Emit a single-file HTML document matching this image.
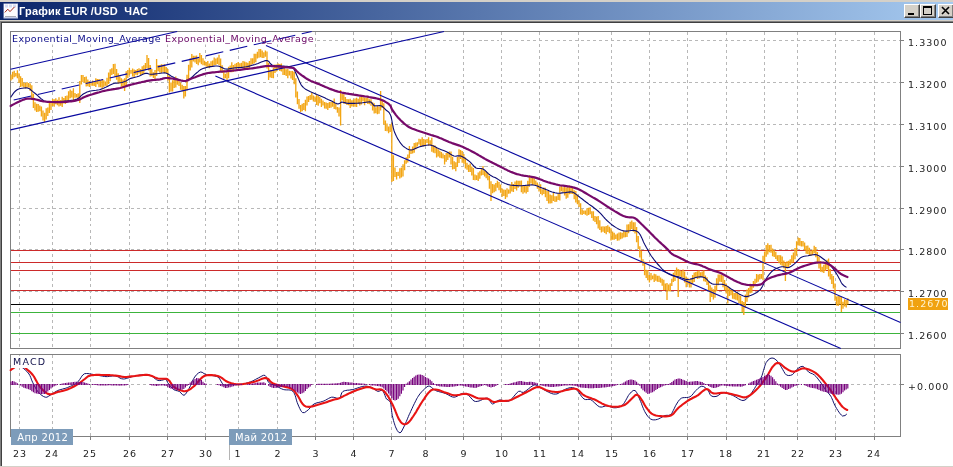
<!DOCTYPE html>
<html><head><meta charset="utf-8"><title>График EUR /USD ЧАС</title>
<style>
html,body{margin:0;padding:0;background:#fff;}
body{width:953px;height:467px;position:relative;overflow:hidden;font-family:"DejaVu Sans","Liberation Sans",sans-serif;}
#win{position:absolute;left:0;top:0;width:953px;height:467px;background:#fff;overflow:hidden;}
#topstrip{position:absolute;left:0;top:0;width:953px;height:2px;background:#d4d0c8;}
#title{position:absolute;left:0;top:2px;width:953px;height:18px;background:linear-gradient(to right,#0a246a 0%,#a6caf0 100%);}
#title .txt{position:absolute;left:19px;top:2px;font:bold 11px/14px "Liberation Sans",sans-serif;color:#fff;white-space:pre;letter-spacing:0.18px;}
#under1{position:absolute;left:0;top:20px;width:953px;height:1px;background:#d4d0c8;}
#under2{position:absolute;left:0;top:21px;width:953px;height:1px;background:#808080;}
#under3{position:absolute;left:1px;top:22px;width:952px;height:1px;background:#404040;}
#leftb{position:absolute;left:0;top:21px;width:1px;height:446px;background:#808080;}
#leftb2{position:absolute;left:1px;top:22px;width:1px;height:444px;background:#404040;}
#botb{position:absolute;left:0;top:466px;width:953px;height:1px;background:#d4d0c8;}
.btn{position:absolute;top:2px;width:16px;height:14px;background:#d4d0c8;box-sizing:border-box;border:1px solid;border-color:#fff #404040 #404040 #fff;box-shadow:inset -1px -1px 0 #808080;}
.yl{position:absolute;left:908px;font-size:9.5px;line-height:12px;color:#222;letter-spacing:1.05px;white-space:pre;}
.xl{position:absolute;top:448px;width:40px;text-align:center;font-size:9.5px;line-height:12px;color:#222;letter-spacing:1.05px;}
.mon{position:absolute;top:429px;height:16px;padding-top:1px;box-sizing:border-box;background:#7d9cba;color:#fff;font-size:10px;line-height:16px;letter-spacing:0.3px;text-align:center;white-space:pre;text-indent:1.5px;}
.lab{position:absolute;font-size:9.5px;line-height:12px;letter-spacing:0.38px;white-space:pre;}
</style></head><body><div id="win">

<svg width="953" height="467" viewBox="0 0 953 467" style="position:absolute;left:0;top:0">
<path d="M19.5 31.5V348.5M19.5 354.5V436.5M52.5 31.5V348.5M52.5 354.5V436.5M90.5 31.5V348.5M90.5 354.5V436.5M129.5 31.5V348.5M129.5 354.5V436.5M167.5 31.5V348.5M167.5 354.5V436.5M205.5 31.5V348.5M205.5 354.5V436.5M238.5 31.5V348.5M238.5 354.5V436.5M277.5 31.5V348.5M277.5 354.5V436.5M315.5 31.5V348.5M315.5 354.5V436.5M353.5 31.5V348.5M353.5 354.5V436.5M391.5 31.5V348.5M391.5 354.5V436.5M425.5 31.5V348.5M425.5 354.5V436.5M463.5 31.5V348.5M463.5 354.5V436.5M501.5 31.5V348.5M501.5 354.5V436.5M539.5 31.5V348.5M539.5 354.5V436.5M578.5 31.5V348.5M578.5 354.5V436.5M611.5 31.5V348.5M611.5 354.5V436.5M649.5 31.5V348.5M649.5 354.5V436.5M687.5 31.5V348.5M687.5 354.5V436.5M726.5 31.5V348.5M726.5 354.5V436.5M764.5 31.5V348.5M764.5 354.5V436.5M797.5 31.5V348.5M797.5 354.5V436.5M835.5 31.5V348.5M835.5 354.5V436.5M874.5 31.5V348.5M874.5 354.5V436.5M10.5 40.5H900.5M10.5 82.5H900.5M10.5 124.5H900.5M10.5 166.5H900.5M10.5 208.5H900.5M10.5 249.5H900.5M10.5 291.5H900.5M10.5 333.5H900.5M10.5 384.5H900.5" stroke="#b8b8b8" stroke-width="1" stroke-dasharray="3 3" fill="none" shape-rendering="crispEdges"/>
<g fill="none" stroke="#808080" stroke-width="1" shape-rendering="crispEdges"><rect x="10.5" y="31.5" width="890.0" height="317.0"/><rect x="10.5" y="354.5" width="890.0" height="82.0"/>
<path d="M900.5 40.5h3M900.5 82.5h3M900.5 124.5h3M900.5 166.5h3M900.5 208.5h3M900.5 249.5h3M900.5 291.5h3M900.5 333.5h3M900.5 384.5h3M19.5 436.5v3M52.5 436.5v3M90.5 436.5v3M129.5 436.5v3M167.5 436.5v3M205.5 436.5v3M238.5 436.5v3M277.5 436.5v3M315.5 436.5v3M353.5 436.5v3M391.5 436.5v3M425.5 436.5v3M463.5 436.5v3M501.5 436.5v3M539.5 436.5v3M578.5 436.5v3M611.5 436.5v3M649.5 436.5v3M687.5 436.5v3M726.5 436.5v3M764.5 436.5v3M797.5 436.5v3M835.5 436.5v3M874.5 436.5v3"/></g>
<rect x="11" y="32" width="304" height="12.5" fill="#fff"/>
<g shape-rendering="crispEdges" stroke-width="1">
<line x1="11.0" x2="900.0" y1="250.5" y2="250.5" stroke="#cc2a2a"/>
<line x1="11.0" x2="900.0" y1="262.5" y2="262.5" stroke="#cc2a2a"/>
<line x1="11.0" x2="900.0" y1="270.5" y2="270.5" stroke="#cc2a2a"/>
<line x1="11.0" x2="900.0" y1="290.5" y2="290.5" stroke="#cc2a2a"/>
<line x1="11.0" x2="900.0" y1="304.5" y2="304.5" stroke="#000"/>
<line x1="11.0" x2="900.0" y1="312.5" y2="312.5" stroke="#3cb43c"/>
<line x1="11.0" x2="900.0" y1="333.5" y2="333.5" stroke="#3cb43c"/>
</g>
<path d="M11.0 74.6V80.6M12.6 71.7V79.3M14.2 70.8V77.2M15.8 72.9V76.4M17.4 70.3V78.2M19.0 73.2V83.0M20.6 76.2V87.0M22.2 77.9V86.4M23.8 82.4V87.4M25.4 82.9V88.6M27.0 82.1V88.0M28.6 83.0V87.4M30.2 83.5V90.9M31.8 85.2V100.1M33.4 93.8V108.1M35.0 102.3V110.6M36.6 103.8V112.0M38.2 104.1V111.7M39.8 105.5V111.2M41.4 106.5V116.4M43.0 110.4V120.5M44.6 112.7V122.0M46.2 108.2V119.4M47.8 107.6V115.9M49.4 101.9V113.0M51.0 100.9V110.0M52.6 98.9V105.9M54.2 99.3V106.8M55.8 98.3V104.3M57.4 99.7V105.3M59.0 97.3V106.5M60.6 99.9V105.7M62.2 96.7V106.9M63.8 98.0V103.5M65.4 95.9V104.0M67.0 95.4V102.2M68.6 91.3V101.8M70.2 89.6V98.3M71.8 90.8V97.5M73.4 88.3V100.7M75.0 93.0V97.7M76.6 93.9V97.4M78.2 93.3V99.9M79.8 81.0V103.0M81.4 74.9V84.6M83.0 74.9V82.1M84.6 77.0V82.8M86.2 76.4V86.6M87.8 79.6V86.3M89.4 81.1V87.0M91.0 82.5V85.8M92.6 80.5V85.7M94.2 81.4V86.1M95.8 78.3V87.0M97.4 79.0V84.2M99.0 78.9V87.2M100.6 80.6V87.2M102.2 79.1V89.2M103.8 80.2V87.0M105.4 81.4V85.7M107.0 77.8V86.1M108.6 72.4V83.9M110.2 69.2V81.3M111.8 68.2V75.1M113.4 64.0V74.0M115.0 63.8V76.8M116.6 68.9V79.7M118.2 73.3V83.7M119.8 76.3V83.2M121.4 78.3V86.7M123.0 79.4V86.9M124.6 78.3V91.0M126.2 71.2V85.7M127.8 70.1V78.0M129.4 67.7V75.2M131.0 70.0V73.7M132.6 68.6V76.5M134.2 69.6V77.4M135.8 70.1V74.7M137.4 69.1V75.2M139.0 68.2V73.4M140.6 68.9V74.9M142.2 66.3V74.0M143.8 65.2V73.8M145.4 62.9V70.2M147.0 55.0V68.3M148.6 58.0V70.6M150.2 65.0V76.4M151.8 69.1V76.2M153.4 72.3V78.1M155.0 69.9V79.0M156.6 59.0V76.0M158.2 65.0V71.2M159.8 64.9V72.5M161.4 64.3V72.9M163.0 64.6V71.9M164.6 64.2V73.2M166.2 67.0V73.3M167.8 69.1V80.6M169.4 75.9V92.6M171.0 82.4V91.4M172.6 80.2V91.6M174.2 78.1V88.0M175.8 76.5V87.5M177.4 78.4V84.8M179.0 80.4V86.1M180.6 82.6V89.8M182.2 84.8V91.5M183.8 86.1V98.5M185.4 86.0V96.5M187.0 74.8V90.5M188.6 64.7V79.6M190.2 58.3V70.6M191.8 54.0V67.4M193.4 55.7V61.4M195.0 55.7V62.4M196.6 55.5V63.9M198.2 58.6V65.2M199.8 53.0V62.4M201.4 54.9V64.3M203.0 58.3V65.2M204.6 60.8V65.6M206.2 62.1V66.7M207.8 61.0V67.6M209.4 63.5V68.2M211.0 61.2V66.7M212.6 60.5V66.3M214.2 57.5V64.9M215.8 58.6V65.1M217.4 57.5V63.9M219.0 54.7V65.2M220.6 58.6V71.9M222.2 65.2V73.1M223.8 70.3V78.7M225.4 73.7V78.2M227.0 72.3V80.8M228.6 66.8V78.3M230.2 65.6V72.2M231.8 62.2V72.2M233.4 65.0V72.0M235.0 63.8V68.4M236.6 63.1V69.8M238.2 62.1V67.6M239.8 63.3V68.5M241.4 62.7V67.7M243.0 61.1V68.2M244.6 61.4V69.3M246.2 62.3V68.0M247.8 62.7V68.7M249.4 61.1V67.8M251.0 58.3V66.1M252.6 58.3V64.1M254.2 53.7V63.6M255.8 53.7V62.3M257.4 51.7V58.5M259.0 49.0V57.7M260.6 49.0V57.3M262.2 50.5V57.9M263.8 52.3V58.1M265.4 50.6V56.8M267.0 51.6V68.4M268.6 62.7V80.0M270.2 69.8V77.4M271.8 70.0V77.9M273.4 67.6V78.3M275.0 64.4V72.9M276.6 64.6V71.6M278.2 63.6V68.8M279.8 64.0V70.9M281.4 63.4V71.5M283.0 65.9V75.0M284.6 67.6V75.1M286.2 69.3V76.0M287.8 69.1V78.3M289.4 70.8V75.4M291.0 71.1V78.4M292.6 71.1V80.0M294.2 71.9V84.3M295.8 78.2V97.5M297.4 91.6V104.2M299.0 99.0V108.8M300.6 105.1V112.0M302.2 103.7V111.2M303.8 103.0V110.0M305.4 99.7V111.2M307.0 96.4V105.4M308.6 96.0V101.9M310.2 95.0V99.9M311.8 92.5V99.7M313.4 95.4V101.6M315.0 96.5V101.9M316.6 94.9V105.1M318.2 95.6V105.7M319.8 97.0V103.2M321.4 98.8V107.1M323.0 100.4V105.6M324.6 102.1V108.6M326.2 102.4V108.7M327.8 102.9V109.9M329.4 102.0V108.1M331.0 102.1V107.7M332.6 101.1V106.7M334.2 98.5V109.1M335.8 103.4V109.5M337.4 107.0V112.7M339.0 107.6V116.4M340.6 90.0V125.5M342.2 93.9V100.4M343.8 94.2V103.8M345.4 96.9V103.7M347.0 98.9V105.0M348.6 99.3V105.3M350.2 98.7V108.0M351.8 100.2V106.5M353.4 99.6V106.4M355.0 98.4V106.8M356.6 97.8V106.9M358.2 98.8V103.4M359.8 96.8V105.6M361.4 96.8V104.4M363.0 96.5V101.3M364.6 97.7V105.2M366.2 97.7V102.4M367.8 96.8V104.1M369.4 99.2V104.3M371.0 99.3V105.8M372.6 102.2V110.4M374.2 103.2V113.6M375.8 107.2V113.3M377.4 105.6V114.2M379.0 106.5V113.8M380.6 91.0V110.5M382.2 100.4V108.1M383.8 103.2V124.4M385.4 120.6V131.1M387.0 123.6V131.3M388.6 126.4V133.2M390.2 124.7V132.0M391.8 122.7V182.0M393.4 155.3V181.0M395.0 167.4V176.9M396.6 172.1V179.5M398.2 171.8V175.9M399.8 168.3V178.4M401.4 167.6V177.5M403.0 164.3V176.5M404.6 160.3V170.2M406.2 157.3V163.7M407.8 154.4V162.4M409.4 146.1V158.1M411.0 149.0V154.0M412.6 146.4V153.5M414.2 142.9V152.7M415.8 142.6V149.3M417.4 142.3V146.5M419.0 138.7V144.4M420.6 139.3V146.6M422.2 137.3V146.1M423.8 139.1V146.4M425.4 139.5V145.7M427.0 139.1V143.0M428.6 137.2V145.7M430.2 140.3V145.3M431.8 137.7V151.8M433.4 145.1V152.7M435.0 145.6V153.3M436.6 147.5V157.4M438.2 149.2V156.4M439.8 150.8V157.7M441.4 152.0V158.2M443.0 153.6V158.4M444.6 155.0V164.4M446.2 153.0V161.8M447.8 151.9V160.0M449.4 151.5V157.6M451.0 151.6V164.5M452.6 156.8V169.6M454.2 161.2V168.9M455.8 162.3V171.2M457.4 156.9V167.0M459.0 149.3V163.0M460.6 150.1V159.1M462.2 151.0V162.8M463.8 153.9V163.7M465.4 157.6V168.5M467.0 162.8V169.8M468.6 164.7V171.9M470.2 163.4V172.1M471.8 166.5V175.6M473.4 168.0V180.1M475.0 174.4V180.2M476.6 175.3V180.0M478.2 172.5V180.9M479.8 171.3V178.8M481.4 168.4V175.6M483.0 165.9V175.0M484.6 170.7V176.5M486.2 171.2V178.3M487.8 172.8V180.3M489.4 175.9V188.7M491.0 181.2V201.0M492.6 184.0V193.2M494.2 184.5V192.3M495.8 183.1V191.2M497.4 180.7V187.8M499.0 182.1V190.3M500.6 184.5V192.8M502.2 188.6V196.7M503.8 189.4V196.0M505.4 189.7V199.0M507.0 188.2V197.3M508.6 189.4V193.7M510.2 185.0V193.4M511.8 182.1V191.5M513.4 184.1V191.9M515.0 181.5V189.0M516.6 180.6V190.5M518.2 180.7V187.7M519.8 180.7V186.2M521.4 180.6V192.3M523.0 185.1V193.8M524.6 184.9V192.5M526.2 185.8V193.5M527.8 180.7V192.1M529.4 175.2V186.8M531.0 177.6V183.4M532.6 178.0V185.1M534.2 178.3V184.8M535.8 180.6V185.8M537.4 182.5V188.7M539.0 184.6V191.6M540.6 184.2V193.9M542.2 189.2V195.2M543.8 187.5V194.0M545.4 187.7V197.3M547.0 190.8V200.9M548.6 190.9V203.4M550.2 194.5V203.4M551.8 195.2V203.2M553.4 192.9V200.9M555.0 196.2V202.0M556.6 196.3V201.7M558.2 193.6V200.0M559.8 186.8V200.6M561.4 184.9V191.2M563.0 187.3V192.4M564.6 186.1V195.5M566.2 187.5V198.7M567.8 186.5V197.7M569.4 185.5V194.2M571.0 186.5V194.0M572.6 187.6V194.1M574.2 190.2V199.3M575.8 191.1V202.5M577.4 194.6V204.3M579.0 200.3V206.9M580.6 203.3V214.4M582.2 209.3V214.9M583.8 210.6V213.9M585.4 210.5V214.8M587.0 208.2V215.8M588.6 207.8V215.1M590.2 207.3V214.3M591.8 211.3V218.1M593.4 211.3V220.8M595.0 216.1V222.1M596.6 216.5V224.3M598.2 216.0V228.4M599.8 220.2V230.1M601.4 226.4V232.4M603.0 226.2V231.7M604.6 226.6V233.0M606.2 226.1V234.2M607.8 225.3V232.0M609.4 226.8V233.3M611.0 228.2V240.5M612.6 231.6V239.8M614.2 232.8V239.7M615.8 234.6V238.9M617.4 233.4V240.7M619.0 232.5V240.6M620.6 232.3V239.2M622.2 232.8V238.4M623.8 230.7V237.6M625.4 231.9V237.3M627.0 224.5V237.1M628.6 224.3V233.3M630.2 221.7V230.7M631.8 220.4V229.1M633.4 222.3V231.7M635.0 222.2V233.5M636.6 227.0V242.2M638.2 235.9V249.1M639.8 246.3V257.6M641.4 250.8V262.4M643.0 259.2V265.7M644.6 261.5V275.3M646.2 269.7V277.9M647.8 269.9V280.3M649.4 274.9V282.6M651.0 272.9V280.3M652.6 275.5V279.2M654.2 273.7V282.0M655.8 274.3V280.8M657.4 275.7V281.8M659.0 275.8V282.0M660.6 277.6V282.7M662.2 278.7V285.8M663.8 279.8V290.2M665.4 283.6V290.1M667.0 283.1V300.0M668.6 284.6V291.3M670.2 283.2V291.5M671.8 278.8V286.1M673.4 272.8V282.1M675.0 270.3V281.1M676.6 267.6V275.8M678.2 269.0V297.0M679.8 269.8V276.0M681.4 271.0V277.1M683.0 269.6V277.8M684.6 271.4V282.4M686.2 276.6V287.2M687.8 277.8V284.4M689.4 280.2V287.5M691.0 278.3V287.4M692.6 275.0V284.1M694.2 272.5V282.0M695.8 272.0V277.8M697.4 271.2V279.0M699.0 270.6V278.4M700.6 272.2V277.0M702.2 271.6V277.1M703.8 270.6V281.2M705.4 275.5V281.8M707.0 277.2V285.1M708.6 281.7V291.3M710.2 285.3V302.0M711.8 287.5V297.1M713.4 289.3V299.6M715.0 285.8V297.8M716.6 278.3V291.3M718.2 274.6V285.3M719.8 274.6V281.8M721.4 274.7V282.0M723.0 275.5V287.2M724.6 280.0V290.2M726.2 283.5V293.5M727.8 285.9V303.5M729.4 288.2V296.1M731.0 289.4V295.2M732.6 289.9V298.7M734.2 292.9V299.2M735.8 292.7V299.8M737.4 292.6V300.6M739.0 294.2V303.5M740.6 295.8V304.3M742.2 301.0V312.2M743.8 302.0V315.0M745.4 294.4V308.1M747.0 289.5V301.7M748.6 287.9V297.6M750.2 283.8V293.2M751.8 284.4V292.8M753.4 281.1V287.8M755.0 278.7V285.7M756.6 273.9V282.8M758.2 274.6V281.7M759.8 274.1V279.6M761.4 274.0V278.7M763.0 255.8V280.2M764.6 251.5V263.9M766.2 245.1V256.7M767.8 243.3V254.5M769.4 244.9V252.2M771.0 244.8V252.7M772.6 248.6V256.3M774.2 250.2V257.0M775.8 251.7V258.9M777.4 255.3V261.1M779.0 255.1V263.2M780.6 255.2V264.8M782.2 256.6V265.7M783.8 260.4V268.3M785.4 262.2V281.0M787.0 261.3V268.3M788.6 260.7V267.3M790.2 259.3V265.1M791.8 255.2V263.2M793.4 252.6V262.5M795.0 247.9V259.3M796.6 241.3V255.7M798.2 237.5V245.5M799.8 238.1V245.7M801.4 240.9V246.6M803.0 241.1V246.5M804.6 242.5V250.3M806.2 245.8V253.7M807.8 245.5V253.9M809.4 247.8V255.4M811.0 250.4V256.1M812.6 249.7V255.1M814.2 245.8V253.3M815.8 246.9V257.2M817.4 251.9V263.6M819.0 256.5V268.5M820.6 260.9V271.7M822.2 266.8V272.2M823.8 264.8V273.0M825.4 261.6V270.9M827.0 259.7V269.2M828.6 258.4V276.6M830.2 269.1V279.5M831.8 274.0V284.1M833.4 276.1V288.5M835.0 283.6V300.8M836.6 296.4V305.4M838.2 296.0V305.9M839.8 296.0V304.8M841.4 296.8V312.0M843.0 301.7V308.7M844.6 299.3V306.4M846.2 299.9V307.4M847.8 298.2V304.6" stroke="#f3a614" stroke-width="1.35" fill="none"/>
<g stroke="#0808a0" stroke-width="1.1" fill="none"><line x1="10.5" y1="69.2" x2="177.2" y2="31.5"/><line x1="10.5" y1="129.9" x2="444.0" y2="31.5"/><line x1="266.0" y1="45.4" x2="900.5" y2="322.5"/><line x1="215.4" y1="76.0" x2="840.8" y2="348.5"/></g>
<g stroke="#0808a0" stroke-width="1.1" fill="none" stroke-dasharray="18 6.63"><line x1="13.7" y1="100.0" x2="311.7" y2="31.5"/></g>
<polyline points="10.6,97.4 11.4,96.3 12.5,94.6 13.9,92.7 15.5,91.0 17.1,89.7 18.7,89.0 20.4,88.5 22.3,88.2 24.2,88.0 25.9,87.9 27.4,88.0 29.5,88.8 31.1,90.1 32.5,91.4 34.6,93.0 36.8,94.8 38.2,96.1 39.7,97.5 41.3,98.9 42.8,100.0 44.2,100.9 45.5,101.4 48.0,101.7 49.1,101.8 50.5,101.8 51.9,101.8 53.5,101.8 55.2,101.7 56.9,101.7 58.6,101.6 60.3,101.5 61.9,101.4 63.4,101.3 65.0,101.1 66.7,101.0 68.4,100.8 70.0,100.6 71.6,100.3 73.2,100.1 74.6,99.8 75.9,99.4 77.0,99.1 79.3,97.8 80.7,96.2 82.2,94.8 83.7,93.8 85.3,92.9 87.0,92.1 89.0,91.4 90.6,91.0 92.3,90.7 94.2,90.5 96.1,90.3 97.8,90.0 99.4,89.7 101.4,89.1 103.0,88.5 104.6,87.8 106.2,87.1 107.9,86.2 109.6,85.3 111.3,84.4 113.0,83.7 114.8,83.3 116.5,83.1 118.3,83.0 120.0,82.8 121.6,82.5 123.2,82.1 124.7,81.6 126.0,81.1 128.1,79.8 130.2,78.5 131.7,78.1 133.3,77.7 135.1,77.3 137.0,76.8 138.7,76.2 140.5,75.4 142.3,74.5 144.1,73.8 145.6,73.4 147.5,73.4 149.0,74.0 150.7,74.3 152.1,74.3 153.6,74.1 155.2,73.9 157.0,73.7 158.6,73.5 160.5,73.2 162.3,73.0 164.1,72.9 165.7,73.0 167.6,73.7 169.2,74.8 171.0,76.0 172.4,76.7 174.1,77.6 175.7,78.4 177.4,79.1 179.0,79.7 180.9,80.2 182.7,80.5 184.4,80.6 186.0,80.5 187.8,80.0 189.4,79.1 191.0,78.0 192.8,76.5 194.6,74.7 196.5,73.0 197.9,71.8 199.2,70.6 200.8,69.5 203.0,68.5 204.3,68.1 205.7,67.7 207.3,67.3 209.0,66.9 210.7,66.6 212.5,66.4 214.1,66.1 215.6,66.0 217.0,66.0 219.1,66.3 220.8,67.0 222.4,67.8 224.0,68.6 225.6,69.0 227.2,69.1 228.8,68.9 230.4,68.6 232.1,68.3 234.0,68.0 235.3,67.9 236.8,67.8 238.3,67.6 239.9,67.5 241.5,67.4 243.0,67.2 244.5,67.0 246.0,66.8 247.6,66.5 249.1,66.1 250.6,65.7 252.1,65.3 253.5,64.9 255.0,64.5 256.5,64.0 258.0,63.5 259.7,62.8 261.3,62.1 262.9,61.5 264.4,60.9 265.8,60.6 267.0,60.5 268.9,61.5 270.2,63.5 272.0,65.0 273.4,65.4 275.0,65.6 276.8,65.7 278.6,65.8 280.3,65.9 282.0,66.0 283.6,66.1 285.3,66.2 287.0,66.3 288.5,66.5 289.9,66.6 291.0,66.8 293.7,68.8 294.4,70.1 295.2,71.7 296.0,73.6 297.0,75.7 297.7,77.3 298.5,79.1 299.3,81.0 300.1,82.8 301.0,84.6 302.0,86.0 303.5,87.6 305.2,88.9 307.0,89.9 309.0,91.0 310.5,91.8 312.2,92.5 314.0,93.2 315.8,93.9 317.6,94.7 319.4,95.4 321.1,96.2 322.9,97.0 324.7,97.8 326.4,98.7 328.1,99.5 329.7,100.2 331.6,101.1 333.4,102.1 335.1,102.9 336.7,103.6 338.0,104.0 339.9,103.2 341.7,102.0 343.1,102.2 344.6,102.6 346.4,103.1 348.5,103.4 349.8,103.4 351.2,103.4 352.7,103.4 354.3,103.4 355.9,103.3 357.5,103.2 359.0,103.1 360.5,103.0 362.4,102.8 364.3,102.5 366.2,102.2 368.0,102.0 369.5,101.9 370.8,102.0 372.6,103.8 374.0,105.7 375.5,105.9 377.4,105.7 379.3,105.5 381.0,105.7 382.8,106.8 384.4,108.4 386.0,110.0 387.6,111.2 389.1,112.5 390.5,115.0 390.9,116.1 391.2,117.5 391.6,119.0 391.9,120.7 392.2,122.4 392.5,124.2 392.9,125.9 393.2,127.6 393.6,129.1 394.0,130.5 394.7,132.6 395.6,134.5 396.4,136.2 397.3,137.9 398.1,139.4 399.0,140.8 400.2,142.7 401.4,144.2 402.6,145.6 404.0,146.8 405.6,147.9 407.3,149.0 409.1,149.7 411.0,150.0 412.6,149.7 414.3,149.1 416.0,148.3 417.8,147.5 419.7,146.8 421.3,146.4 423.1,145.9 424.9,145.5 426.6,145.2 428.4,145.0 430.0,145.0 431.8,145.4 433.5,146.0 435.2,146.8 436.8,147.7 438.5,148.5 440.2,149.2 442.0,149.9 443.7,150.6 445.4,151.3 447.0,152.0 448.9,153.1 450.6,154.2 452.3,155.3 454.0,156.0 455.7,156.2 457.3,155.9 459.0,155.7 460.8,156.0 462.4,156.7 464.2,157.7 466.0,158.9 467.8,160.2 469.4,161.4 471.2,163.1 472.8,165.0 474.4,166.7 476.0,168.0 477.7,168.5 479.5,168.5 481.2,168.5 483.0,169.0 484.8,170.2 486.5,171.8 488.3,173.6 490.0,175.0 491.7,176.0 493.4,176.9 495.1,177.6 496.8,178.5 498.5,179.6 500.2,180.7 501.9,181.9 503.6,182.8 505.2,183.5 506.8,184.1 508.5,184.6 510.5,185.0 512.0,185.2 513.6,185.4 515.3,185.5 517.0,185.6 518.8,185.7 520.7,185.7 522.2,185.7 523.7,185.5 525.3,185.4 527.0,185.2 528.6,185.1 530.2,185.0 531.6,184.9 533.0,185.0 534.8,185.3 536.4,185.7 537.9,186.3 539.4,187.0 541.4,187.7 542.7,188.2 544.2,188.8 545.7,189.4 547.4,190.1 549.0,190.8 550.6,191.4 552.2,192.0 553.7,192.4 555.0,192.8 557.1,193.1 558.9,193.2 560.5,193.1 562.1,192.9 563.7,192.8 565.4,192.6 567.2,192.3 568.9,192.1 570.5,191.9 572.0,192.0 573.9,192.7 575.5,193.9 577.4,195.4 578.9,196.5 580.4,197.7 582.2,199.0 584.0,200.5 586.0,202.0 587.4,203.0 588.8,204.1 590.4,205.2 592.0,206.3 593.6,207.5 595.1,208.7 596.6,209.8 598.0,211.0 599.7,212.6 601.2,214.2 602.7,215.9 604.1,217.5 605.6,219.1 607.0,220.5 608.8,222.1 610.5,223.6 612.2,225.0 614.0,226.3 615.7,227.4 617.4,228.4 619.1,229.3 620.7,230.0 622.5,230.6 624.3,231.0 626.0,231.1 627.8,231.0 629.6,230.8 631.4,230.5 633.1,230.4 634.5,230.5 636.6,231.1 638.2,232.2 639.7,234.0 640.4,235.1 641.1,236.4 641.8,237.9 642.5,239.5 643.2,241.2 644.0,242.9 644.8,244.5 645.6,246.0 646.4,247.5 647.3,249.0 648.1,250.6 649.0,252.2 649.9,253.7 650.8,255.2 651.7,256.5 653.1,258.4 654.4,260.2 655.8,261.9 657.1,263.5 658.5,265.0 660.2,266.9 662.0,268.8 663.7,270.5 665.4,272.0 667.1,273.1 668.7,274.0 670.3,274.8 672.0,275.4 673.7,275.9 675.4,276.3 677.1,276.6 679.0,277.0 680.4,277.4 681.8,278.0 683.3,278.5 684.8,279.0 686.4,279.4 688.0,279.5 689.7,279.3 691.4,278.9 693.2,278.4 695.0,277.8 696.7,277.3 698.2,277.0 700.1,276.8 701.8,276.9 703.4,277.2 705.0,277.8 706.6,279.1 708.2,280.8 709.9,282.5 712.0,283.8 713.3,284.1 714.7,284.3 716.3,284.3 717.9,284.3 719.5,284.3 721.1,284.3 722.6,284.4 724.0,284.7 725.9,285.4 727.6,286.4 729.1,287.5 730.7,288.7 732.5,289.8 734.2,290.8 735.9,292.0 737.8,293.1 739.6,294.2 741.3,295.1 742.8,295.8 744.7,296.4 746.2,296.6 747.7,296.4 749.6,295.8 751.2,295.2 752.9,294.5 754.8,293.6 756.7,292.5 758.4,291.2 760.0,289.8 761.0,288.6 762.0,287.1 762.8,285.6 763.6,283.9 764.4,282.3 765.2,280.6 766.0,279.1 766.8,277.8 768.1,275.9 769.4,274.2 770.8,272.6 772.1,271.2 773.6,270.0 775.2,269.0 776.9,268.2 778.7,267.5 780.4,267.0 782.0,266.7 783.8,266.8 785.6,267.2 787.3,267.6 789.0,267.5 790.8,266.6 792.6,265.3 794.4,263.8 796.0,262.4 797.7,260.6 799.3,258.8 801.0,257.4 802.6,256.7 804.3,256.3 806.1,256.0 808.0,255.7 809.6,255.4 811.4,255.0 813.1,254.8 814.9,254.6 816.5,254.8 818.3,255.4 820.1,256.5 821.7,257.7 823.4,259.0 825.1,260.3 826.8,261.7 828.5,263.2 830.2,265.0 831.4,266.4 832.5,267.9 833.7,269.5 834.9,271.2 836.0,272.9 837.0,274.5 838.0,276.2 838.9,277.9 839.8,279.6 840.6,281.3 841.4,282.8 842.2,284.0 844.7,286.3 846.5,287.4" stroke="#0c0c74" stroke-width="1.1" fill="none" stroke-linejoin="round"/>
<polyline points="10.6,106.0 11.8,105.3 13.5,104.4 15.4,103.4 17.1,102.5 18.8,101.7 20.4,100.9 22.0,100.3 23.7,99.6 25.5,99.0 27.4,98.6 29.0,98.5 30.7,98.6 32.4,98.8 34.3,99.1 35.9,99.5 37.6,99.9 39.3,100.4 41.1,100.9 42.8,101.3 44.5,101.5 46.1,101.7 47.7,101.8 49.5,101.9 51.4,102.0 52.7,102.0 54.1,102.1 55.6,102.1 57.1,102.2 58.6,102.2 60.2,102.1 61.8,102.1 63.4,102.0 64.9,101.9 66.4,101.8 68.0,101.6 69.6,101.5 71.2,101.3 72.8,101.1 74.3,100.9 75.7,100.6 77.0,100.3 79.0,99.7 80.8,98.9 82.3,98.1 83.9,97.3 85.7,96.5 87.3,95.9 89.0,95.3 90.8,94.7 92.5,94.2 94.3,93.6 96.0,93.1 97.7,92.6 99.3,92.2 100.9,91.7 102.5,91.3 104.3,90.9 106.2,90.5 107.6,90.2 109.1,89.9 110.7,89.7 112.3,89.4 113.9,89.1 115.5,88.9 117.1,88.6 118.6,88.3 120.0,88.0 121.9,87.5 123.6,87.0 125.2,86.5 126.8,85.9 128.4,85.4 130.2,84.9 131.6,84.5 133.2,84.1 134.7,83.7 136.3,83.4 137.9,83.0 139.4,82.6 140.9,82.3 142.2,82.0 144.1,81.6 145.8,81.2 147.4,80.9 149.0,80.6 150.7,80.3 152.2,80.1 153.9,80.0 155.5,79.8 157.1,79.7 158.6,79.6 160.0,79.4 162.1,78.9 163.7,78.3 165.7,78.0 167.2,78.0 168.7,78.1 170.4,78.3 172.2,78.5 174.0,78.8 175.4,79.1 177.0,79.5 178.6,79.9 180.2,80.3 181.7,80.7 183.2,80.9 184.5,81.0 186.2,80.8 187.5,80.4 188.9,79.7 191.0,78.8 192.2,78.3 193.6,77.8 195.2,77.2 196.8,76.5 198.5,75.9 200.2,75.3 201.9,74.7 203.5,74.1 205.0,73.7 206.6,73.3 208.1,73.0 209.6,72.8 211.1,72.6 212.6,72.4 214.0,72.3 215.5,72.2 217.0,72.0 218.5,71.8 220.0,71.7 221.4,71.6 222.9,71.5 224.4,71.4 225.9,71.3 227.4,71.1 229.0,71.0 230.5,70.8 232.0,70.7 233.5,70.5 235.1,70.3 236.7,70.2 238.3,70.0 239.9,69.8 241.5,69.6 243.0,69.4 244.5,69.2 246.1,69.0 247.6,68.8 249.2,68.7 250.7,68.5 252.2,68.3 253.7,68.1 255.1,67.9 256.5,67.7 258.2,67.4 259.7,67.2 261.2,66.9 262.7,66.6 264.1,66.3 265.6,66.1 267.0,66.0 268.6,65.9 270.2,66.0 271.8,66.1 273.4,66.2 275.1,66.4 277.0,66.5 278.4,66.6 280.1,66.7 281.8,66.9 283.6,67.0 285.3,67.2 287.0,67.3 288.6,67.5 289.9,67.6 291.0,67.7 293.7,68.0 295.0,69.2 296.6,71.0 298.8,73.0 300.2,74.1 301.8,75.3 303.6,76.5 305.4,77.8 307.2,79.0 309.0,80.0 310.7,80.9 312.4,81.6 314.1,82.3 315.8,82.9 317.6,83.6 319.4,84.3 320.8,84.9 322.3,85.6 323.9,86.2 325.4,86.9 327.0,87.6 328.5,88.2 330.0,88.9 331.4,89.4 333.2,90.0 334.8,90.6 336.4,91.1 338.1,91.6 339.8,92.0 341.7,92.5 343.1,92.8 344.5,93.1 346.0,93.4 347.6,93.6 349.1,93.9 350.7,94.1 352.3,94.4 353.9,94.7 355.4,94.9 356.9,95.1 358.5,95.4 360.0,95.6 361.5,95.8 363.1,96.0 364.6,96.3 366.1,96.5 367.6,96.7 369.0,97.0 370.6,97.3 372.2,97.6 373.8,97.9 375.3,98.2 376.8,98.5 378.3,98.8 379.7,99.2 381.0,99.7 383.0,100.6 385.0,101.6 386.7,102.6 388.3,103.7 389.6,104.8 390.8,106.4 391.3,108.0 392.3,110.0 393.4,111.5 394.6,113.2 396.0,115.1 397.5,116.9 399.0,118.6 400.6,120.3 402.4,121.9 404.2,123.6 406.0,125.0 407.7,126.3 409.3,127.3 410.9,128.1 412.4,128.7 414.1,129.3 416.0,130.0 417.3,130.5 418.8,131.0 420.3,131.5 421.9,132.0 423.4,132.5 425.0,133.0 426.5,133.5 428.0,134.0 429.6,134.5 431.1,135.0 432.5,135.4 434.0,135.9 435.4,136.3 436.9,136.8 438.5,137.4 439.9,138.0 441.4,138.6 442.9,139.2 444.4,139.9 445.9,140.6 447.5,141.2 449.0,141.9 450.5,142.5 452.0,143.1 453.5,143.6 455.0,144.1 456.5,144.6 458.0,145.1 459.5,145.6 461.0,146.2 462.5,146.8 464.0,147.5 465.5,148.2 467.0,148.9 468.5,149.6 470.0,150.4 471.5,151.2 473.0,152.0 474.5,152.8 476.0,153.6 477.5,154.5 479.0,155.4 480.5,156.2 482.0,157.1 483.5,158.0 485.0,158.9 486.5,159.7 488.0,160.5 489.5,161.3 491.0,162.0 492.5,162.8 494.0,163.5 495.5,164.2 497.0,165.0 498.5,165.7 500.0,166.5 501.5,167.3 503.1,168.1 504.6,168.9 506.1,169.6 507.6,170.4 509.1,171.1 510.5,171.7 512.3,172.4 513.9,173.0 515.5,173.6 517.1,174.1 518.8,174.5 520.7,175.0 522.1,175.3 523.6,175.6 525.1,175.8 526.7,176.0 528.3,176.3 529.9,176.5 531.5,176.8 533.0,177.1 534.5,177.4 536.1,177.9 537.6,178.4 539.1,178.9 540.6,179.5 542.1,180.1 543.5,180.7 545.0,181.2 546.5,181.7 548.0,182.2 549.5,182.6 551.0,183.1 552.5,183.5 554.0,183.9 555.5,184.3 557.0,184.7 558.5,185.0 560.0,185.3 561.6,185.5 563.2,185.7 564.7,185.9 566.3,186.1 567.7,186.3 569.2,186.5 570.5,186.8 572.4,187.2 574.1,187.6 575.6,188.1 577.2,188.6 579.0,189.4 580.6,190.2 582.3,191.1 584.1,192.2 585.9,193.3 587.7,194.4 589.4,195.4 591.1,196.4 592.8,197.4 594.5,198.3 596.2,199.3 597.9,200.3 599.6,201.4 601.1,202.4 602.6,203.4 604.1,204.4 605.6,205.4 607.2,206.5 608.8,207.5 610.5,208.6 611.9,209.5 613.4,210.4 615.0,211.4 616.6,212.3 618.3,213.3 619.9,214.2 621.4,215.0 622.9,215.7 624.3,216.3 626.2,216.9 628.1,217.2 629.8,217.3 631.5,217.3 633.0,217.5 634.5,218.0 636.4,219.1 638.0,220.6 639.6,222.2 641.4,224.0 643.0,225.5 644.7,227.2 646.5,229.0 648.3,230.8 650.0,232.5 651.7,234.2 653.4,235.9 655.1,237.7 656.8,239.3 658.5,241.0 660.3,242.6 662.1,244.3 663.9,245.9 665.5,247.4 667.0,248.8 668.9,250.8 670.3,252.5 672.0,254.0 673.5,254.9 675.2,255.7 677.0,256.5 679.0,257.4 680.5,258.2 682.2,259.1 684.0,260.0 685.8,260.9 687.6,261.8 689.4,262.5 691.1,263.0 692.8,263.5 694.5,263.8 696.2,264.1 697.9,264.5 699.6,265.0 701.3,265.6 703.1,266.4 704.8,267.1 706.6,267.9 708.3,268.7 710.0,269.4 711.7,270.0 713.4,270.6 715.1,271.1 716.8,271.6 718.5,272.2 720.0,272.8 721.7,273.6 723.3,274.4 724.9,275.3 726.4,276.1 728.0,277.0 729.6,277.9 731.1,278.8 732.7,279.6 734.3,280.5 736.0,281.3 737.5,282.0 739.0,282.6 740.6,283.3 742.3,283.9 744.1,284.3 746.0,284.7 747.4,284.9 749.0,285.0 750.6,285.1 752.3,285.2 754.1,285.2 755.7,285.2 757.3,285.1 758.7,284.9 760.0,284.7 762.1,283.7 763.6,282.3 765.0,280.8 766.8,279.5 768.3,278.7 769.9,278.0 771.6,277.3 773.3,276.7 775.2,276.1 777.0,275.5 778.4,275.1 779.9,274.8 781.4,274.5 783.0,274.2 784.5,273.9 786.1,273.6 787.6,273.2 789.0,272.8 790.8,272.1 792.6,271.2 794.3,270.3 796.0,269.4 797.7,268.5 799.4,267.7 801.1,267.0 802.9,266.4 804.7,265.8 806.4,265.3 808.1,264.8 809.7,264.3 811.5,263.8 813.2,263.3 814.9,262.9 816.5,262.7 818.2,262.5 819.9,262.5 821.7,262.5 823.5,262.7 825.2,263.0 826.8,263.4 828.6,264.2 830.4,265.2 832.0,266.4 833.7,267.7 835.4,269.1 837.1,270.8 838.8,272.3 840.5,273.7 842.4,274.8 844.4,275.7 846.2,276.5 847.4,277.0" stroke="#760a6a" stroke-width="2.2" fill="none" stroke-linejoin="round" stroke-linecap="round"/>
<polyline points="10.6,366.0 12.0,365.5 14.0,364.7 16.0,364.5 17.4,364.8 18.9,365.4 20.4,366.2 22.0,367.3 23.8,368.7 25.6,370.3 27.5,372.1 29.0,374.0 29.9,375.6 30.7,377.3 31.3,379.1 32.0,380.9 32.8,382.7 33.6,384.3 34.5,386.0 35.5,387.8 36.4,389.5 37.5,391.1 38.5,392.4 40.2,394.1 42.0,395.5 43.7,396.6 45.3,397.2 46.9,397.2 48.3,396.4 50.0,395.3 51.3,394.5 52.8,393.5 54.4,392.4 56.1,391.4 57.8,390.5 59.3,389.9 60.9,389.5 62.5,389.1 64.1,388.6 65.8,388.2 67.4,387.6 69.0,386.9 70.7,386.2 72.4,385.5 74.1,384.6 75.6,383.7 77.0,382.7 78.4,381.2 79.7,379.5 80.8,377.8 81.8,376.2 82.8,375.0 84.5,373.7 86.7,373.5 88.0,373.6 89.5,373.8 91.1,374.1 92.9,374.4 94.6,374.7 96.3,375.0 97.9,375.3 99.5,375.6 101.1,375.9 102.8,376.2 104.4,376.5 106.0,376.6 107.6,376.6 109.3,376.4 110.9,376.2 112.5,376.0 114.1,375.9 115.6,376.0 117.2,376.5 118.6,377.2 120.0,378.1 121.5,378.7 123.3,379.0 124.7,378.9 126.3,378.5 127.9,378.0 129.7,377.5 131.4,376.9 133.2,376.4 135.0,376.0 136.6,375.7 138.3,375.4 140.1,375.1 141.8,374.8 143.6,374.6 145.3,374.5 146.9,374.5 148.4,374.7 150.2,375.3 152.0,376.3 153.6,377.5 155.1,378.7 156.6,379.8 158.0,380.4 159.8,380.6 161.5,380.3 163.1,379.9 164.6,379.5 165.7,379.5 166.8,380.6 167.7,382.7 168.9,384.3 170.4,386.2 172.0,388.1 173.5,389.5 175.5,390.4 177.4,390.8 179.3,391.4 180.9,392.9 182.5,394.7 184.0,395.3 185.2,394.5 186.4,392.9 187.7,390.8 189.0,388.5 189.8,387.0 190.6,385.4 191.4,383.6 192.2,381.7 193.0,379.9 193.9,378.3 194.7,377.0 196.6,374.6 198.6,372.9 200.5,372.0 202.2,372.3 203.9,373.5 206.2,374.7 207.6,375.0 209.3,375.2 211.1,375.4 212.9,375.7 214.7,376.0 216.4,376.4 217.8,377.0 219.3,378.3 220.4,380.1 221.4,381.9 222.4,383.6 223.6,384.7 225.0,385.2 226.4,385.3 228.0,385.1 229.6,384.8 231.3,384.7 232.8,384.7 234.4,384.7 236.0,384.7 237.7,384.6 239.4,384.5 241.0,384.3 242.6,384.0 244.3,383.7 245.9,383.3 247.5,382.8 249.1,382.3 250.6,381.8 252.3,381.1 253.9,380.3 255.4,379.5 256.9,378.7 258.3,378.0 260.1,377.0 261.9,376.0 263.5,375.3 265.0,375.4 266.1,376.6 266.9,378.7 267.8,381.0 268.9,382.7 270.4,383.7 272.0,384.4 273.8,384.9 275.6,385.6 277.0,386.3 278.5,387.2 280.0,388.0 281.6,388.8 283.3,389.5 284.9,389.8 286.6,389.9 288.3,389.9 290.1,390.0 291.6,390.5 293.0,391.4 293.8,392.5 294.5,393.9 295.2,395.5 295.7,397.3 296.2,399.1 296.7,400.9 297.2,402.5 297.8,404.0 298.7,406.2 299.7,408.3 300.6,410.2 301.6,411.7 302.6,412.6 304.5,412.6 306.4,411.3 308.4,409.7 310.1,407.9 311.8,405.8 314.0,404.0 315.4,403.4 317.0,402.8 318.8,402.4 320.5,402.0 322.2,401.5 323.8,401.0 325.5,400.2 327.1,399.3 328.6,398.4 330.1,397.7 331.6,397.2 333.2,397.2 334.9,397.6 336.5,398.1 338.0,398.4 339.3,398.2 340.4,396.9 341.0,395.0 341.7,392.9 343.0,391.4 344.3,390.8 345.8,390.5 347.4,390.2 349.2,390.1 351.0,389.8 352.8,389.5 354.4,389.1 356.1,388.5 357.8,387.9 359.5,387.4 361.2,386.8 362.8,386.4 364.3,386.2 366.1,386.1 367.7,386.3 369.2,386.6 370.6,387.1 372.0,387.6 374.1,388.9 376.0,390.4 377.8,391.4 379.5,391.1 381.1,390.3 382.6,390.5 383.4,391.7 384.2,393.5 385.0,395.5 385.7,397.5 386.5,399.0 388.5,400.2 390.3,402.0 390.6,403.0 390.8,404.3 391.0,405.8 391.2,407.3 391.4,409.0 391.6,410.7 391.8,412.4 392.0,414.0 392.3,415.5 392.7,417.2 393.1,418.9 393.5,420.6 394.0,422.3 394.5,423.9 395.0,425.4 395.5,426.8 396.0,428.0 397.3,430.6 398.7,432.3 400.0,432.8 401.2,432.0 402.3,430.0 403.8,427.0 404.4,425.8 405.0,424.5 405.6,423.1 406.3,421.5 407.0,419.9 407.7,418.2 408.4,416.5 409.1,414.8 409.9,413.2 410.6,411.6 411.3,410.0 412.1,408.4 412.8,406.8 413.6,405.1 414.4,403.5 415.2,401.9 416.0,400.3 416.7,398.8 417.5,397.5 418.3,396.2 419.9,393.9 421.6,391.9 423.2,390.2 424.7,388.8 426.0,387.6 428.0,386.1 429.8,386.2 431.4,387.3 433.3,389.0 435.6,390.5 437.0,391.1 438.5,391.5 440.2,392.0 441.9,392.4 443.6,392.9 445.2,393.4 447.0,394.2 448.8,395.2 450.5,396.2 452.3,396.9 454.0,397.2 455.8,396.8 457.6,396.0 459.4,394.9 461.1,393.9 462.6,393.4 464.7,393.5 466.6,394.2 468.4,395.3 470.3,397.1 472.2,399.4 474.0,401.0 475.6,401.5 477.2,401.4 479.0,401.0 480.6,400.4 482.5,399.5 484.2,398.7 485.7,398.2 487.4,398.1 488.7,399.0 489.8,400.7 491.0,402.8 492.5,404.0 493.9,403.5 495.5,402.2 497.3,400.9 499.3,400.0 500.8,400.0 502.3,400.4 504.0,400.8 505.7,401.3 507.4,401.4 509.0,401.0 510.6,399.9 512.4,398.2 514.0,396.2 515.7,394.2 517.2,392.5 518.5,391.4 520.3,391.2 521.7,392.2 523.4,392.4 525.0,391.5 526.8,390.2 528.7,388.7 530.5,387.2 532.0,386.2 534.0,384.9 535.9,385.0 537.2,385.5 538.7,386.4 540.3,387.5 542.0,388.5 543.6,389.5 545.2,390.4 546.8,391.3 548.4,392.1 549.9,392.8 551.3,393.4 553.3,394.0 555.2,394.1 557.0,393.9 558.9,393.0 560.7,391.7 562.8,390.5 564.2,389.8 565.8,389.1 567.5,388.4 569.1,387.9 570.5,387.6 572.5,387.6 574.3,388.1 576.3,389.5 577.5,390.7 578.8,392.4 580.1,394.3 581.4,396.2 582.7,397.8 584.0,399.0 585.7,399.6 587.3,399.5 589.0,399.3 590.8,399.7 592.4,400.8 594.2,402.5 596.0,404.2 597.8,405.8 599.5,406.8 601.1,407.1 602.6,406.9 604.0,406.4 605.5,406.0 607.0,405.9 608.6,406.2 610.1,406.7 611.7,407.2 613.3,407.7 614.9,407.8 616.5,407.7 618.0,407.4 619.6,406.9 621.1,406.1 622.6,405.0 623.6,403.8 624.6,402.3 625.6,400.6 626.6,398.8 627.5,397.1 628.4,395.5 629.3,394.3 631.3,392.0 633.2,390.5 635.0,390.5 635.9,391.3 636.7,392.6 637.6,394.3 638.4,396.2 639.2,398.1 640.0,400.0 640.7,401.6 641.4,403.3 642.0,405.1 642.7,406.9 643.4,408.6 644.1,410.2 644.8,411.7 646.2,414.0 647.6,416.1 649.1,417.8 650.6,419.0 652.2,419.7 653.8,419.9 655.5,419.8 657.3,419.4 658.8,418.8 660.4,418.0 662.0,417.1 663.6,416.2 665.0,415.5 667.1,415.3 668.9,415.4 670.8,414.5 671.6,413.5 672.5,412.1 673.3,410.4 674.2,408.7 675.0,406.9 675.8,405.3 676.6,404.0 678.1,401.6 679.6,399.6 681.4,398.2 682.9,397.7 684.7,397.6 686.6,397.5 688.4,397.3 690.0,396.8 691.7,395.5 693.1,393.8 694.5,392.0 695.9,390.5 697.8,388.6 699.8,387.0 701.7,386.2 703.7,386.6 705.6,387.9 707.4,389.5 708.5,391.0 709.4,392.9 710.2,394.7 711.3,395.9 713.1,396.6 715.0,396.6 717.0,396.2 718.8,395.1 720.7,393.6 722.9,392.8 724.3,392.8 725.8,393.1 727.4,393.5 729.1,394.0 730.8,394.7 732.5,395.3 734.0,396.0 735.5,396.9 737.1,397.9 738.7,398.9 740.2,399.7 741.7,400.3 743.0,400.5 745.0,400.0 746.7,398.8 748.3,397.1 749.8,395.3 751.0,393.8 752.2,392.1 753.3,390.3 754.5,388.5 755.6,386.6 756.6,385.1 757.6,383.6 758.6,382.2 759.5,380.6 760.5,378.9 761.4,377.0 762.0,375.5 762.5,373.9 763.0,372.2 763.5,370.3 764.1,368.5 764.6,366.8 765.1,365.1 765.6,363.7 766.2,362.5 768.1,360.0 770.0,358.5 772.0,358.0 774.0,358.4 775.9,359.8 777.8,361.6 778.8,362.9 779.8,364.5 780.8,366.2 781.7,367.8 782.6,369.3 783.9,371.6 785.1,373.6 786.5,375.0 788.3,375.5 790.4,375.4 792.3,374.7 793.9,373.2 795.4,371.1 797.0,369.3 798.9,367.8 800.9,366.6 802.9,366.4 804.8,367.7 806.7,370.0 808.6,372.0 810.5,373.1 812.5,373.8 814.4,375.0 815.9,376.4 817.3,378.0 818.7,379.9 820.2,381.8 821.4,383.5 822.6,385.3 823.8,387.1 824.9,388.9 826.0,390.5 827.7,392.4 829.2,394.0 830.8,396.2 831.5,397.5 832.1,398.9 832.8,400.5 833.4,402.1 834.1,403.7 834.8,405.3 835.6,406.8 836.6,408.5 837.8,410.4 839.0,412.2 840.2,413.8 841.4,415.1 842.4,416.0 845.0,415.6 846.8,414.0" stroke="#10106a" stroke-width="1" fill="none" stroke-linejoin="round"/>
<polyline points="10.6,370.2 12.3,368.8 14.5,367.3 16.0,366.6 17.5,366.1 19.0,365.8 21.2,366.0 23.0,366.6 25.0,367.7 26.2,368.7 27.8,370.1 29.6,371.6 31.3,373.3 32.8,375.0 33.9,376.5 34.9,378.2 35.8,379.9 36.7,381.6 37.6,383.2 38.5,384.7 39.9,386.7 41.4,388.5 42.9,390.1 44.3,391.4 46.1,392.8 47.9,393.9 50.0,394.3 51.4,394.2 52.9,393.8 54.4,393.2 56.1,392.6 57.8,392.0 59.3,391.6 60.9,391.3 62.5,390.9 64.1,390.5 65.8,390.1 67.4,389.5 69.0,388.8 70.7,388.1 72.3,387.3 73.9,386.5 75.5,385.6 77.0,384.7 78.7,383.6 80.4,382.4 81.9,381.2 83.4,380.0 84.8,379.0 86.6,377.5 88.1,376.3 90.5,375.4 91.7,375.2 93.0,375.1 94.5,375.0 96.1,374.9 97.7,374.9 99.4,374.9 101.0,375.0 102.5,375.0 104.0,375.0 105.8,375.0 107.5,375.1 109.2,375.1 110.9,375.2 112.5,375.3 114.1,375.5 115.6,375.6 117.3,375.8 118.9,376.1 120.4,376.4 121.9,376.7 123.4,376.9 125.0,377.0 126.6,377.0 128.2,376.8 129.8,376.6 131.4,376.4 133.1,376.2 135.0,376.0 136.5,375.8 138.2,375.6 139.9,375.4 141.7,375.2 143.5,375.0 145.2,374.9 146.9,374.9 148.4,375.0 150.2,375.4 151.9,375.9 153.4,376.6 154.9,377.4 156.4,378.0 158.0,378.5 159.6,378.7 161.3,378.7 163.0,378.7 164.7,378.7 166.2,378.8 167.6,379.3 169.3,380.7 170.7,382.8 172.0,384.9 173.5,386.6 175.0,387.7 176.5,388.6 178.2,389.4 179.8,390.0 181.2,390.5 183.2,391.1 185.0,391.2 187.0,390.8 188.4,390.2 189.9,389.3 191.4,388.3 193.0,387.0 194.7,385.6 196.1,384.1 197.6,382.4 199.1,380.5 200.7,378.7 202.5,377.1 204.3,376.0 205.7,375.5 207.1,375.2 208.7,375.1 210.2,375.0 211.9,375.1 213.4,375.2 215.0,375.4 216.4,375.7 217.8,376.0 219.6,376.7 221.3,377.6 222.8,378.7 224.3,379.9 225.8,381.0 227.4,381.8 229.0,382.4 230.7,383.0 232.3,383.4 233.9,383.8 235.5,384.1 237.0,384.3 238.6,384.4 240.2,384.3 241.6,384.2 243.2,384.0 244.8,383.7 246.3,383.5 247.8,383.2 249.4,382.9 251.0,382.6 252.7,382.2 254.4,381.8 256.0,381.3 257.7,380.6 259.5,379.9 261.3,379.1 263.1,378.5 264.6,378.1 266.0,378.0 268.3,379.0 269.9,381.0 271.8,382.7 273.2,383.4 274.6,384.0 276.1,384.5 277.7,385.0 279.5,385.6 281.0,386.0 282.7,386.3 284.5,386.7 286.3,387.1 288.0,387.5 289.6,387.9 291.0,388.5 293.4,390.1 295.1,392.0 296.8,394.3 297.8,395.8 298.8,397.5 299.8,399.3 300.7,401.1 301.7,402.7 302.6,404.0 304.2,405.6 305.7,406.4 307.4,406.8 308.8,406.9 310.4,406.7 312.1,406.4 314.0,405.9 315.5,405.5 317.0,405.1 318.7,404.6 320.4,404.1 322.1,403.5 323.8,403.0 325.5,402.5 327.2,401.9 328.8,401.3 330.5,400.7 332.0,400.2 333.4,399.7 335.5,399.2 337.2,398.9 339.3,398.2 340.7,397.6 342.3,396.8 343.9,395.9 345.6,395.1 347.4,394.2 349.0,393.4 350.6,392.7 352.2,392.0 353.8,391.3 355.3,390.7 356.9,390.1 358.5,389.5 360.1,388.9 361.7,388.4 363.3,387.9 365.0,387.4 366.5,387.1 368.0,387.0 369.7,387.2 371.4,387.8 373.0,388.4 374.5,389.1 375.9,389.5 378.0,389.5 379.9,389.2 381.7,389.5 383.6,390.8 385.5,392.8 387.4,395.3 388.2,396.5 389.0,397.9 389.9,399.4 390.7,400.9 391.5,402.5 392.4,404.2 393.2,405.9 393.8,407.3 394.5,408.9 395.2,410.5 395.8,412.2 396.5,413.8 397.1,415.4 397.8,416.9 398.4,418.3 399.0,419.4 400.7,421.9 402.2,423.4 403.8,424.2 405.4,424.3 406.9,423.6 408.6,422.3 409.7,421.2 410.8,419.8 411.9,418.2 413.1,416.5 414.4,414.5 415.3,413.1 416.2,411.7 417.1,410.1 418.1,408.4 419.1,406.8 420.0,405.1 421.0,403.5 422.0,402.0 423.1,400.3 424.3,398.6 425.4,396.9 426.6,395.2 427.7,393.7 428.8,392.4 429.8,391.4 431.7,389.9 433.5,389.5 435.6,389.5 437.0,389.7 438.5,390.1 440.2,390.6 441.9,391.3 443.6,391.9 445.2,392.4 446.8,392.9 448.4,393.5 449.9,394.1 451.5,394.7 453.2,395.1 454.9,395.3 456.4,395.3 458.1,395.0 459.7,394.7 461.4,394.3 463.1,394.0 464.7,393.8 466.4,393.9 468.1,394.2 469.8,394.8 471.5,395.5 473.2,396.3 474.8,397.1 476.4,397.7 478.0,398.2 479.8,398.5 481.5,398.6 483.2,398.6 484.7,398.5 486.2,398.6 487.6,398.8 489.8,399.8 491.7,401.1 493.5,402.0 495.3,402.0 497.1,401.5 499.3,401.0 500.7,400.9 502.3,400.9 503.9,401.0 505.6,400.9 507.3,400.8 509.0,400.5 510.6,400.0 512.2,399.4 513.8,398.6 515.3,397.8 516.9,397.0 518.5,396.2 520.1,395.4 521.7,394.6 523.2,393.8 524.8,393.0 526.4,392.2 528.0,391.4 529.6,390.6 531.3,389.6 532.9,388.7 534.5,387.9 536.2,387.3 537.8,387.0 539.4,387.1 541.0,387.7 542.6,388.4 544.2,389.2 545.8,389.9 547.4,390.5 549.0,390.9 550.6,391.3 552.2,391.6 553.8,391.8 555.4,392.0 557.0,392.0 558.6,391.9 560.2,391.6 561.9,391.2 563.5,390.7 565.1,390.3 566.7,390.0 568.3,389.7 570.0,389.3 571.6,389.0 573.2,388.8 574.8,388.7 576.3,389.0 577.9,389.8 579.3,391.1 580.7,392.5 582.2,394.0 584.0,395.3 585.5,396.1 587.1,396.8 588.8,397.4 590.6,398.0 592.3,398.7 594.0,399.3 595.6,400.0 597.3,400.9 598.9,401.8 600.5,402.7 602.1,403.6 603.6,404.3 605.2,405.0 606.8,405.5 608.4,406.0 610.1,406.3 611.7,406.6 613.3,406.7 614.9,406.8 616.5,406.8 618.2,406.7 619.8,406.4 621.4,406.1 623.0,405.6 624.5,405.0 626.2,403.9 627.9,402.5 629.4,400.9 630.9,399.4 632.2,398.2 634.0,396.5 635.5,395.1 637.0,394.7 638.6,395.8 640.3,397.8 641.8,400.0 642.8,401.6 643.7,403.3 644.7,405.1 645.8,406.8 647.1,408.6 648.5,410.5 650.0,412.2 651.6,413.6 653.0,414.4 654.4,415.0 655.9,415.5 657.5,415.8 659.3,416.0 660.8,416.1 662.4,416.3 664.2,416.4 665.9,416.4 667.7,416.3 669.3,416.0 670.8,415.5 672.6,414.4 674.1,412.9 675.5,411.2 676.9,409.4 678.5,407.8 680.0,406.5 681.6,405.3 683.2,404.0 684.9,402.8 686.6,401.6 688.2,400.5 689.8,399.5 691.4,398.7 693.1,397.8 694.7,397.0 696.3,396.2 697.8,395.3 699.6,393.9 701.4,392.3 703.2,390.8 704.9,389.6 706.5,389.0 708.2,389.5 709.7,390.8 711.2,392.4 713.2,393.4 714.6,393.5 716.2,393.5 717.8,393.3 719.6,393.1 721.4,392.9 723.1,392.8 724.8,392.8 726.5,393.0 728.1,393.3 729.8,393.7 731.5,394.1 733.1,394.5 734.8,394.9 736.3,395.3 738.0,395.8 739.7,396.3 741.3,396.8 742.8,397.2 744.4,397.4 746.0,397.2 747.6,396.6 749.2,395.8 750.8,394.7 752.4,393.4 754.0,392.0 755.6,390.5 757.0,389.1 758.4,387.6 759.8,386.0 761.2,384.3 762.6,382.5 763.9,380.7 765.2,379.0 766.3,377.4 767.3,375.7 768.3,374.0 769.3,372.2 770.3,370.5 771.2,368.9 772.1,367.5 773.0,366.4 775.0,364.2 776.7,363.1 778.7,363.0 780.1,363.6 781.6,364.8 783.2,366.2 784.8,367.6 786.4,368.7 787.9,369.6 789.3,370.4 790.8,371.0 792.3,371.5 794.0,371.6 795.5,371.3 797.1,370.7 798.8,369.9 800.5,369.1 802.2,368.5 803.8,368.3 805.5,368.5 807.2,368.9 808.9,369.5 810.5,370.2 812.0,370.9 813.4,371.6 815.5,372.9 817.3,374.3 819.0,376.0 820.5,377.5 822.0,379.2 823.5,381.0 825.0,382.8 826.2,384.3 827.3,385.8 828.5,387.3 829.6,388.9 830.8,390.5 832.0,392.2 833.1,393.9 834.3,395.6 835.4,397.3 836.6,399.0 837.8,400.7 839.0,402.4 840.2,404.0 841.3,405.5 842.4,406.8 844.3,408.3 846.0,409.3 847.2,410.0" stroke="#e81414" stroke-width="2.1" fill="none" stroke-linejoin="round" stroke-linecap="round"/>
<path d="M11.0 381.4V385.0M12.6 380.9V385.0M14.2 381.5V385.0M15.8 382.3V385.0M17.4 383.3V385.0M20.6 384.0V385.5M22.2 384.0V386.8M23.8 384.0V387.7M25.4 384.0V388.2M27.0 384.0V388.7M28.6 384.0V389.2M30.2 384.0V390.1M31.8 384.0V391.2M33.4 384.0V392.3M35.0 384.0V393.3M36.6 384.0V393.6M38.2 384.0V394.0M39.8 384.0V394.1M41.4 384.0V394.1M43.0 384.0V394.1M44.6 384.0V393.9M46.2 384.0V392.7M47.8 384.0V391.5M49.4 384.0V390.0M51.0 384.0V388.4M52.6 384.0V387.1M54.2 384.0V386.3M55.8 384.0V385.5M57.4 384.0V385.0M60.6 383.9V385.0M62.2 383.6V385.0M63.8 383.2V385.0M65.4 383.0V385.0M67.0 382.8V385.0M68.6 382.6V385.0M70.2 382.4V385.0M71.8 382.2V385.0M73.4 382.0V385.0M75.0 381.8V385.0M76.6 381.8V385.0M78.2 381.9V385.0M79.8 381.9V385.0M81.4 382.0V385.0M83.0 382.0V385.0M84.6 382.5V385.0M86.2 383.0V385.0M87.8 383.4V385.0M89.4 384.0V385.0M92.6 384.0V385.0M94.2 384.0V385.0M95.8 384.0V385.1M97.4 384.0V385.3M99.0 384.0V385.4M100.6 384.0V385.5M102.2 384.0V385.5M103.8 384.0V385.4M105.4 384.0V385.4M107.0 384.0V385.4M108.6 384.0V385.3M110.2 384.0V385.3M111.8 384.0V385.4M113.4 384.0V385.4M115.0 384.0V385.5M116.6 384.0V385.6M118.2 384.0V385.6M119.8 384.0V385.7M121.4 384.0V385.6M123.0 384.0V385.6M124.6 384.0V385.5M126.2 384.0V385.3M127.8 384.0V385.0M150.2 384.0V385.1M151.8 384.0V385.4M153.4 384.0V385.6M155.0 384.0V385.8M156.6 384.0V386.0M158.2 384.0V385.8M159.8 384.0V385.6M161.4 384.0V385.4M163.0 384.0V385.5M164.6 384.0V385.8M166.2 384.0V386.1M167.8 384.0V387.1M169.4 384.0V388.1M171.0 384.0V388.7M172.6 384.0V389.1M174.2 384.0V389.4M175.8 384.0V389.8M177.4 384.0V390.2M179.0 384.0V390.1M180.6 384.0V389.7M182.2 384.0V389.4M183.8 384.0V389.0M185.4 384.0V387.6M187.0 384.0V386.0M188.6 384.0V385.0M190.2 382.4V385.0M191.8 381.3V385.0M193.4 380.2V385.0M195.0 379.1V385.0M196.6 378.1V385.0M198.2 378.3V385.0M199.8 379.0V385.0M201.4 380.0V385.0M203.0 381.8V385.0M204.6 383.2V385.0M206.2 383.8V385.0M217.4 384.0V385.0M219.0 384.0V385.2M220.6 384.0V385.9M222.2 384.0V386.6M223.8 384.0V387.3M225.4 384.0V388.0M227.0 384.0V388.0M228.6 384.0V387.6M230.2 384.0V387.2M231.8 384.0V386.7M233.4 384.0V386.2M235.0 384.0V385.6M236.6 384.0V385.2M238.2 384.0V385.1M239.8 384.0V385.0M241.4 384.0V385.0M247.8 384.0V385.0M249.4 384.0V385.0M251.0 383.8V385.0M252.6 383.6V385.0M254.2 383.3V385.0M255.8 382.9V385.0M257.4 382.6V385.0M259.0 382.5V385.0M260.6 382.4V385.0M262.2 382.4V385.0M263.8 382.3V385.0M265.4 383.3V385.0M268.6 384.0V385.8M270.2 384.0V387.1M271.8 384.0V387.6M273.4 384.0V388.1M275.0 384.0V388.1M276.6 384.0V387.7M278.2 384.0V387.4M279.8 384.0V387.0M281.4 384.0V386.9M283.0 384.0V386.8M284.6 384.0V386.6M286.2 384.0V386.6M287.8 384.0V386.9M289.4 384.0V387.4M291.0 384.0V388.2M292.6 384.0V389.2M294.2 384.0V390.3M295.8 384.0V391.4M297.4 384.0V392.4M299.0 384.0V393.4M300.6 384.0V393.9M302.2 384.0V393.2M303.8 384.0V392.6M305.4 384.0V390.9M307.0 384.0V389.1M308.6 384.0V387.5M310.2 384.0V386.4M311.8 384.0V385.1M316.6 384.0V385.0M318.2 383.7V385.0M319.8 383.7V385.0M321.4 383.7V385.0M323.0 383.7V385.0M324.6 383.7V385.0M326.2 383.7V385.0M327.8 383.7V385.0M329.4 383.7V385.0M331.0 383.6V385.0M332.6 383.5V385.0M334.2 383.4V385.0M335.8 383.3V385.0M337.4 383.2V385.0M339.0 383.1V385.0M340.6 382.7V385.0M342.2 382.0V385.0M343.8 381.7V385.0M345.4 381.9V385.0M347.0 382.1V385.0M348.6 382.3V385.0M350.2 382.5V385.0M351.8 382.6V385.0M353.4 382.8V385.0M355.0 382.9V385.0M356.6 383.0V385.0M358.2 383.2V385.0M359.8 383.3V385.0M361.4 383.5V385.0M363.0 383.6V385.0M364.6 383.8V385.0M366.2 384.0V385.0M369.4 384.0V385.1M371.0 384.0V385.4M372.6 384.0V385.5M374.2 384.0V385.6M375.8 384.0V385.7M377.4 384.0V385.9M379.0 384.0V386.2M380.6 384.0V386.4M382.2 384.0V387.3M383.8 384.0V388.4M385.4 384.0V389.9M387.0 384.0V391.5M388.6 384.0V393.6M390.2 384.0V395.8M391.8 384.0V398.2M393.4 384.0V400.1M395.0 384.0V400.6M396.6 384.0V400.0M398.2 384.0V398.7M399.8 384.0V396.3M401.4 384.0V393.7M403.0 384.0V390.5M404.6 384.0V386.9M406.2 383.8V385.0M407.8 382.4V385.0M409.4 381.3V385.0M411.0 379.6V385.0M412.6 378.0V385.0M414.2 376.7V385.0M415.8 375.6V385.0M417.4 374.7V385.0M419.0 374.5V385.0M420.6 374.5V385.0M422.2 375.1V385.0M423.8 375.8V385.0M425.4 376.9V385.0M427.0 377.8V385.0M428.6 378.5V385.0M430.2 379.8V385.0M431.8 381.3V385.0M433.4 382.9V385.0M435.0 384.0V385.0M436.6 384.0V385.7M438.2 384.0V386.1M439.8 384.0V386.5M441.4 384.0V386.6M443.0 384.0V386.7M444.6 384.0V386.8M446.2 384.0V386.9M447.8 384.0V387.0M449.4 384.0V386.9M451.0 384.0V386.8M452.6 384.0V386.7M454.2 384.0V386.6M455.8 384.0V386.3M457.4 384.0V385.9M459.0 384.0V385.5M460.6 384.0V385.4M462.2 384.0V385.7M463.8 384.0V386.0M465.4 384.0V386.4M467.0 384.0V386.8M468.6 384.0V387.1M470.2 384.0V387.5M471.8 384.0V387.6M473.4 384.0V387.8M475.0 384.0V387.9M476.6 384.0V387.8M478.2 384.0V387.1M479.8 384.0V386.5M481.4 384.0V385.9M483.0 384.0V385.5M484.6 384.0V385.1M486.2 384.0V385.6M487.8 384.0V386.4M489.4 384.0V387.0M491.0 384.0V387.5M492.6 384.0V387.1M494.2 384.0V386.7M495.8 384.0V386.0M497.4 384.0V385.1M505.4 384.0V385.0M507.0 384.0V385.0M508.6 383.9V385.0M510.2 383.4V385.0M511.8 383.1V385.0M513.4 382.6V385.0M515.0 382.2V385.0M516.6 381.8V385.0M518.2 381.3V385.0M519.8 380.9V385.0M521.4 381.1V385.0M523.0 381.4V385.0M524.6 381.7V385.0M526.2 382.0V385.0M527.8 381.9V385.0M529.4 381.8V385.0M531.0 381.8V385.0M532.6 381.9V385.0M534.2 382.3V385.0M535.8 382.7V385.0M537.4 383.3V385.0M540.6 384.0V385.2M542.2 384.0V385.7M543.8 384.0V386.1M545.4 384.0V386.5M547.0 384.0V386.6M548.6 384.0V386.8M550.2 384.0V386.9M551.8 384.0V387.0M553.4 384.0V386.9M555.0 384.0V386.8M556.6 384.0V386.6M558.2 384.0V386.5M559.8 384.0V386.2M561.4 384.0V385.9M563.0 384.0V385.7M564.6 384.0V385.5M566.2 384.0V385.4M567.8 384.0V385.4M569.4 384.0V385.3M571.0 384.0V385.4M572.6 384.0V385.6M574.2 384.0V385.8M575.8 384.0V386.0M577.4 384.0V386.5M579.0 384.0V387.1M580.6 384.0V387.5M582.2 384.0V387.7M583.8 384.0V387.8M585.4 384.0V387.9M587.0 384.0V388.1M588.6 384.0V388.2M590.2 384.0V388.3M591.8 384.0V388.2M593.4 384.0V388.2M595.0 384.0V388.1M596.6 384.0V388.1M598.2 384.0V388.1M599.8 384.0V388.0M601.4 384.0V387.8M603.0 384.0V387.6M604.6 384.0V387.4M606.2 384.0V387.2M607.8 384.0V387.0M609.4 384.0V386.8M611.0 384.0V386.5M612.6 384.0V386.2M614.2 384.0V385.9M615.8 384.0V385.5M617.4 384.0V385.1M620.6 384.0V385.0M622.2 383.4V385.0M623.8 382.4V385.0M625.4 381.4V385.0M627.0 380.6V385.0M628.6 380.0V385.0M630.2 379.4V385.0M631.8 379.4V385.0M633.4 380.0V385.0M635.0 380.6V385.0M636.6 381.7V385.0M638.2 383.6V385.0M639.8 384.0V385.8M641.4 384.0V388.5M643.0 384.0V390.2M644.6 384.0V391.5M646.2 384.0V392.7M647.8 384.0V393.9M649.4 384.0V393.4M651.0 384.0V392.8M652.6 384.0V392.2M654.2 384.0V391.2M655.8 384.0V390.0M657.4 384.0V388.9M659.0 384.0V388.0M660.6 384.0V387.2M662.2 384.0V386.4M663.8 384.0V385.8M665.4 384.0V385.3M667.0 384.0V385.0M668.6 384.0V385.0M670.2 383.0V385.0M671.8 381.9V385.0M673.4 380.7V385.0M675.0 379.5V385.0M676.6 379.0V385.0M678.2 378.5V385.0M679.8 378.6V385.0M681.4 379.1V385.0M683.0 379.7V385.0M684.6 380.3V385.0M686.2 381.1V385.0M687.8 381.9V385.0M689.4 381.8V385.0M691.0 381.6V385.0M692.6 381.4V385.0M694.2 381.3V385.0M695.8 381.1V385.0M697.4 381.1V385.0M699.0 381.4V385.0M700.6 381.7V385.0M702.2 382.1V385.0M703.8 383.1V385.0M705.4 384.0V385.0M707.0 384.0V385.1M708.6 384.0V386.1M710.2 384.0V387.1M711.8 384.0V387.6M713.4 384.0V388.1M715.0 384.0V388.0M716.6 384.0V387.5M718.2 384.0V386.9M719.8 384.0V386.2M721.4 384.0V385.6M723.0 384.0V385.5M724.6 384.0V385.8M726.2 384.0V386.0M727.8 384.0V386.1M729.4 384.0V386.2M731.0 384.0V386.3M732.6 384.0V386.4M734.2 384.0V386.5M735.8 384.0V386.5M737.4 384.0V386.6M739.0 384.0V386.6M740.6 384.0V386.7M742.2 384.0V386.6M743.8 384.0V385.9M745.4 384.0V385.3M748.6 383.4V385.0M750.2 382.4V385.0M751.8 381.8V385.0M753.4 381.1V385.0M755.0 380.4V385.0M756.6 379.8V385.0M758.2 379.1V385.0M759.8 378.4V385.0M761.4 377.7V385.0M763.0 376.9V385.0M764.6 375.9V385.0M766.2 374.9V385.0M767.8 373.9V385.0M769.4 374.7V385.0M771.0 375.8V385.0M772.6 377.2V385.0M774.2 379.3V385.0M775.8 381.3V385.0M777.4 383.6V385.0M779.0 384.0V385.4M780.6 384.0V386.8M782.2 384.0V388.1M783.8 384.0V389.0M785.4 384.0V390.0M787.0 384.0V389.9M788.6 384.0V389.1M790.2 384.0V388.4M791.8 384.0V387.6M793.4 384.0V386.8M795.0 384.0V386.1M796.6 384.0V385.5M798.2 384.0V385.0M801.4 383.9V385.0M804.6 384.0V385.3M806.2 384.0V386.1M807.8 384.0V386.7M809.4 384.0V387.3M811.0 384.0V387.7M812.6 384.0V387.9M814.2 384.0V388.2M815.8 384.0V388.6M817.4 384.0V389.3M819.0 384.0V390.0M820.6 384.0V390.8M822.2 384.0V391.3M823.8 384.0V391.7M825.4 384.0V392.1M827.0 384.0V392.6M828.6 384.0V393.1M830.2 384.0V393.5M831.8 384.0V393.9M833.4 384.0V394.2M835.0 384.0V394.5M836.6 384.0V394.6M838.2 384.0V394.7M839.8 384.0V394.5M841.4 384.0V393.8M843.0 384.0V392.3M844.6 384.0V390.5M846.2 384.0V389.4M847.8 384.0V388.6" stroke="#78047e" stroke-width="1.15" fill="none"/>
</svg>
<div id="topstrip"></div><div id="title"><svg width="16" height="16" viewBox="0 0 16 16" style="position:absolute;left:3px;top:1px"><rect x="0.5" y="0.5" width="14.5" height="15" fill="#c4cce8"/><rect x="1" y="1" width="13" height="13" fill="#fbfbfd"/><path d="M2 1.5h3v3h-3zM6 1.5h3v3h-3zM10 1.5h3v3h-3z" fill="#d4dcf2"/><path d="M2 13.5H13" stroke="#a8aab4" stroke-width="1"/><polyline points="1.8,9.4 4.8,6.2 7,8.6 11.6,3.8" fill="none" stroke="#a8281c" stroke-width="1"/></svg><span class="txt">График EUR /USD  ЧАС</span>
<div class="btn" style="left:904px"><svg width="14" height="12" style="position:absolute;left:0;top:0"><rect x="3" y="8" width="6" height="2" fill="#000"/></svg></div>
<div class="btn" style="left:920px"><svg width="14" height="12" style="position:absolute;left:0;top:0"><rect x="2.5" y="1.5" width="8" height="8" fill="none" stroke="#000"/><rect x="2" y="1" width="9" height="2" fill="#000"/></svg></div>
<div class="btn" style="left:938px"><svg width="14" height="12" style="position:absolute;left:0;top:0"><path d="M3 2L10 9M10 2L3 9" stroke="#000" stroke-width="1.6"/></svg></div>
</div><div id="under1"></div><div id="under2"></div><div id="under3"></div><div id="leftb"></div><div id="leftb2"></div><div id="botb"></div>
<div class="yl" style="top:37px">1.3300</div>
<div class="yl" style="top:79px">1.3200</div>
<div class="yl" style="top:121px">1.3100</div>
<div class="yl" style="top:163px">1.3000</div>
<div class="yl" style="top:205px">1.2900</div>
<div class="yl" style="top:246px">1.2800</div>
<div class="yl" style="top:288px">1.2700</div>
<div class="yl" style="top:330px">1.2600</div>
<div class="yl" style="top:381px">+0.000</div>
<div class="yl" style="top:298px;left:908px;width:40px;height:12px;background:#f0a210;color:#fff3d0;text-indent:1px">1.2670</div>
<div class="xl" style="left:0px">23</div>
<div class="xl" style="left:32px">24</div>
<div class="xl" style="left:70px">25</div>
<div class="xl" style="left:110px">26</div>
<div class="xl" style="left:148px">27</div>
<div class="xl" style="left:186px">30</div>
<div class="xl" style="left:218px">1</div>
<div class="xl" style="left:258px">2</div>
<div class="xl" style="left:296px">3</div>
<div class="xl" style="left:334px">4</div>
<div class="xl" style="left:372px">7</div>
<div class="xl" style="left:406px">8</div>
<div class="xl" style="left:444px">9</div>
<div class="xl" style="left:482px">10</div>
<div class="xl" style="left:520px">11</div>
<div class="xl" style="left:558px">14</div>
<div class="xl" style="left:592px">15</div>
<div class="xl" style="left:630px">16</div>
<div class="xl" style="left:668px">17</div>
<div class="xl" style="left:706px">18</div>
<div class="xl" style="left:744px">21</div>
<div class="xl" style="left:778px">22</div>
<div class="xl" style="left:816px">23</div>
<div class="xl" style="left:854px">24</div>
<div class="mon" style="left:11px;width:62px">Апр 2012</div>
<div style="position:absolute;left:229px;top:445px;width:1px;height:15px;background:#b4b4b4"></div><div class="mon" style="left:229px;width:63px">Май 2012</div>
<div class="lab" style="left:12px;top:33px;color:#0a0a88">Exponential_Moving_Average</div>
<div class="lab" style="left:165px;top:33px;color:#6a0866">Exponential_Moving_Average</div>
<div class="lab" style="left:11px;top:356px;width:35px;height:12px;line-height:11px;background:#fff;color:#10104a;letter-spacing:1.2px;text-indent:2px;font-size:9.5px">MACD</div>
</div></body></html>
